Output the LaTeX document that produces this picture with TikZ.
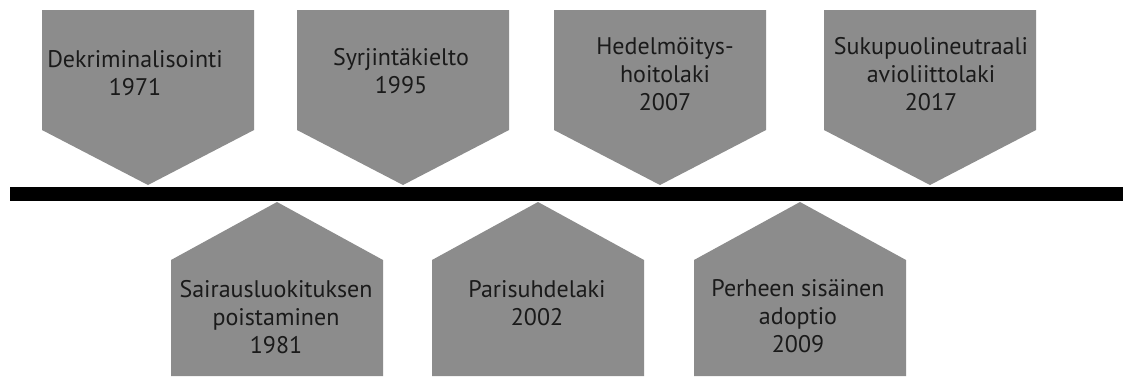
\documentclass[tikz,border=0pt]{standalone}
\usepackage{fontspec}
\setmainfont{PT Sans}
\definecolor{boxgray}{HTML}{8C8C8C}
\definecolor{txt}{HTML}{1A1A1A}
\tikzset{
  shapefill/.style={fill=boxgray, draw=none},
  label/.style={align=center, anchor=base, inner sep=0pt, text=txt,
    font=\fontsize{24}{28}\selectfont},
}
\begin{document}
\begin{tikzpicture}[x=1pt,y=-1pt]
\useasboundingbox (0,0) rectangle (1124,376);
\fill[white] (0,0) rectangle (1124,376);
% top pentagons (pointing down)
\foreach \l/\t in {42/148, 297/403, 554/660, 824/930}{
  \fill[shapefill] (\l,10) -- ({\l+212},10) -- ({\l+212},130) -- (\t,185) -- (\l,130) -- cycle;
}
% bottom pentagons (pointing up)
\foreach \l/\t in {171/277, 432/538, 694/800}{
  \fill[shapefill] (\l,376) -- (\l,260) -- (\t,202) -- ({\l+212},260) -- ({\l+212},376) -- cycle;
}
% timeline bar
\coordinate (barL) at (10,193.8);
\coordinate (barR) at (1123,193.8);
\draw[line width=13.5pt] (barL) -- (barR);
% labels (anchor at baseline of last line)
\node[label] (t1) at (135,95) {Dekriminalisointi\\1971};
\node[label] (t2) at (401,93) {Syrjintäkielto\\1995};
\node[label] (t3) at (665,110) {Hedelmöitys-\\hoitolaki\\2007};
\node[label] (t4) at (931,110) {Sukupuolineutraali\\avioliittolaki\\2017};
\node[label] (b1) at (276,353) {Sairausluokituksen\\poistaminen\\1981};
\node[label] (b2) at (537,325) {Parisuhdelaki\\2002};
\node[label] (b3) at (798,352) {Perheen sisäinen\\adoptio\\2009};
\end{tikzpicture}
\end{document}
